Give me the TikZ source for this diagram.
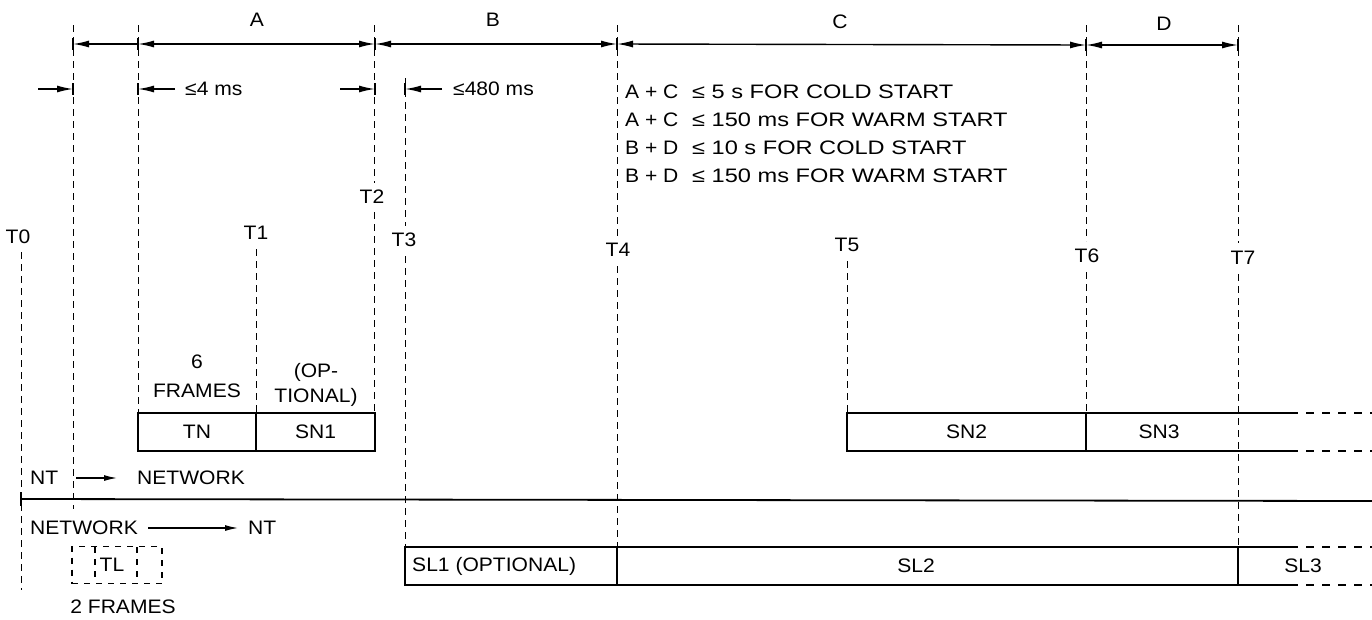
\documentclass[tikz,border=0pt]{standalone}
\usepackage{fontspec}
\setmainfont{Liberation Sans}[FakeStretch=1.08]
\newfontfamily\widefont{Liberation Sans}[FakeStretch=1.21]
\usetikzlibrary{arrows.meta}
\begin{document}
\begin{tikzpicture}[x=1pt,y=-1pt,
  every node/.style={font=\fontsize{19.5}{23}\selectfont, inner sep=0pt},
  vd/.style={line width=0.9pt, dash pattern=on 7pt off 5pt},
  dim/.style={line width=1.4pt, -{Latex[length=16pt,width=7pt]}},
  ddim/.style={line width=1.4pt, {Latex[length=16pt,width=7pt]}-{Latex[length=16pt,width=7pt]}},
  sdim/.style={line width=1.2pt, -{Latex[length=13pt,width=6pt]}},
  tick/.style={line width=1.2pt},
  box/.style={draw, line width=1.8pt, minimum height=38pt},
  heavy/.style={line width=1.8pt},
  opend/.style={line width=1.8pt, dash pattern=on 8pt off 8pt},
  blk/.style={font={\widefont\fontsize{19.5}{23}\selectfont}, anchor=west},
  blka/.style={anchor=west},
]
\useasboundingbox (0,0) rectangle (1372,619);

% ---- top dimension row
\coordinate (a0) at (73,44);
\coordinate (a1) at (138,44);
\coordinate (a2) at (375,44);
\coordinate (a3) at (617,44);
\coordinate (a4) at (1086,45);
\coordinate (a5) at (1238,45);
\draw[dim] (a1) -- (a0);
\draw[ddim] (a1) -- (a2);
\draw[ddim] (a2) -- (a3);
\draw[ddim] (a3) -- (a4);
\draw[ddim] (a4) -- (a5);
\foreach \p in {a0,a1,a2,a3,a4,a5} \draw[tick] ([yshift=6pt]\p) -- ([yshift=-6pt]\p);
\node (lA) at (257,20) {A};
\node (lB) at (493,20) {B};
\node (lC) at (840,22) {C};
\node (lD) at (1164,24) {D};

% ---- second row
\coordinate (b0s) at (38,89);  \coordinate (b0) at (73,89);
\coordinate (b1s) at (175,89); \coordinate (b1) at (138,89);
\coordinate (b2s) at (340,89); \coordinate (b2) at (375,89);
\coordinate (b3s) at (442,89); \coordinate (b3) at (405,89);
\draw[dim] (b0s) -- (b0);
\draw[dim] (b1s) -- (b1);
\draw[dim] (b2s) -- (b2);
\draw[dim] (b3s) -- (b3);
\foreach \p in {b0,b1,b2,b3} \draw[tick] ([yshift=6pt]\p) -- ([yshift=-6pt]\p);
\node[anchor=west] (t4) at (185,89) {≤4 ms};
\node[anchor=west] (t480) at (453,89) {≤480 ms};

% ---- condition text block
\node[blka] (c1a) at (625,92)  {A + C};
\node[blk] (c1b) at (692,92)  {≤ 5 s FOR COLD START};
\node[blka] (c2a) at (625,120) {A + C};
\node[blk] (c2b) at (692,120) {≤ 150 ms FOR WARM START};
\node[blka] (c3a) at (625,148) {B + D};
\node[blk] (c3b) at (692,148) {≤ 10 s FOR COLD START};
\node[blka] (c4a) at (625,176) {B + D};
\node[blk] (c4b) at (692,176) {≤ 150 ms FOR WARM START};

% ---- time labels
\node (T0) at (18,237) {T0};
\node (T1) at (256,233) {T1};
\node (T2) at (372,197) {T2};
\node (T3) at (404,240) {T3};
\node (T4) at (618,250) {T4};
\node (T5) at (847,245) {T5};
\node (T6) at (1087,256) {T6};
\node (T7) at (1243,258) {T7};

% ---- vertical dashed time lines
\draw[vd] (21,252) -- (21,590);
\draw[vd] (73,25) -- (73,509);
\draw[vd] (138,25) -- (138,413);
\draw[vd] (256,249) -- (256,413);
\draw[vd] (374,25) -- (374,183);
\draw[vd] (374,212) -- (374,413);
\draw[vd] (405,78) -- (405,226);
\draw[vd] (405,256) -- (405,547);
\draw[vd] (617,25) -- (617,236);
\draw[vd] (617,266) -- (617,547);
\draw[vd] (847,261) -- (847,413);
\draw[vd] (1086,25) -- (1086,241);
\draw[vd] (1086,272) -- (1086,413);
\draw[vd] (1238,25) -- (1238,243);
\draw[vd] (1238,274) -- (1238,547);

% ---- upper (NT -> network) frames
\node (six) at (197,362) {6};
\node (fr6) at (197,391) {FRAMES};
\node (op) at (316,372) {(OP-};
\node (tion) at (316,397) {TIONAL)};
\node[box, minimum width=118pt] (tn) at (197,432) {TN};
\node[box, minimum width=119pt] (sn1) at (315.5,432) {SN1};
\node[box, minimum width=239pt] (sn2) at (966.5,432) {SN2};
\coordinate (sn3a) at (1086,413); \coordinate (sn3b) at (1290,413); \coordinate (sn3c) at (1372,413);
\coordinate (sn3d) at (1086,451); \coordinate (sn3e) at (1290,451); \coordinate (sn3f) at (1372,451);
\draw[heavy] (sn3a) -- (sn3b) (sn3d) -- (sn3e);
\draw[opend] (sn3b) -- (sn3c) (sn3e) -- (sn3f);
\node (sn3) at (1159,432) {SN3};

% ---- direction labels and main line
\node[anchor=west] (nt1) at (30,478) {NT};
\coordinate (n1s) at (76,478); \coordinate (n1e) at (117,478);
\draw[sdim] (n1s) -- (n1e);
\node[anchor=west] (net1) at (137,478) {NETWORK};
\coordinate (m0) at (21,499); \coordinate (m1) at (1372,501);
\draw[heavy] (m0) -- (m1);
\draw[tick] (21,492) -- (21,506);
\node[anchor=west] (net2) at (30,528) {NETWORK};
\coordinate (n2s) at (148,528); \coordinate (n2e) at (238,528);
\draw[sdim] (n2s) -- (n2e);
\node[anchor=west] (nt2) at (248,528) {NT};

% ---- TL dashed box
\node[draw, line width=1.3pt, dash pattern=on 6pt off 6pt, minimum width=90pt, minimum height=37pt] (tl) at (117,565) {};
\draw[line width=1.3pt, dash pattern=on 6pt off 6pt] (95,547) -- (95,583) (137,547) -- (137,583);
\node (tlt) at (112,565) {TL};
\node (fr2) at (123,607) {2 FRAMES};

% ---- lower (network -> NT) frames
\node[box, minimum width=212pt] (sl1) at (511,566) {};
\node[anchor=west] (sl1t) at (412,566) {SL1 (OPTIONAL)};
\node[box, minimum width=621pt] (sl2) at (927.5,566) {};
\node (sl2t) at (916,566) {SL2};
\coordinate (sl3a) at (1238,547); \coordinate (sl3b) at (1290,547); \coordinate (sl3c) at (1372,547);
\coordinate (sl3d) at (1238,585); \coordinate (sl3e) at (1290,585); \coordinate (sl3f) at (1372,585);
\draw[heavy] (sl3a) -- (sl3b) (sl3d) -- (sl3e);
\draw[opend] (sl3b) -- (sl3c) (sl3e) -- (sl3f);
\node (sl3) at (1303,566) {SL3};
\end{tikzpicture}
\end{document}
